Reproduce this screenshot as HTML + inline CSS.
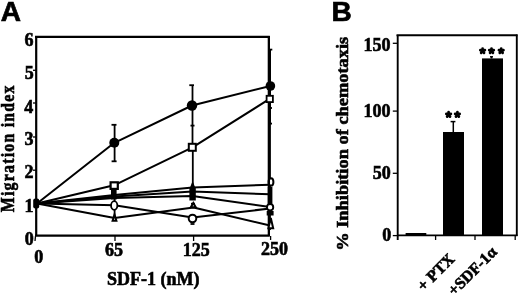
<!DOCTYPE html>
<html><head><meta charset="utf-8">
<style>
html,body{margin:0;padding:0;background:#fff;width:520px;height:294px;overflow:hidden}
svg{display:block;filter:grayscale(1)}
.s{font-family:"Liberation Sans",sans-serif;font-weight:bold;stroke:#000;stroke-width:0.7px}
.t{font-family:"Liberation Serif",serif;font-weight:bold;stroke:#000;stroke-width:0.6px}
</style></head><body>
<svg width="520" height="294" viewBox="0 0 520 294">
<rect width="520" height="294" fill="#fff"/>
<!-- Panel labels -->
<text class="s" x="0.8" y="20.8" font-size="28">A</text>
<text class="s" x="331.6" y="20.8" font-size="28">B</text>

<!-- ========== Panel A ========== -->
<g stroke="#000" fill="none" stroke-width="2.2">
  <line x1="36.2" y1="36" x2="36.2" y2="236"/>
  <line x1="35" y1="36.8" x2="269.8" y2="36.8"/>
  <line x1="268.8" y1="36" x2="268.8" y2="236"/>
  <line x1="35" y1="235.6" x2="269.8" y2="235.6"/>
</g>
<g stroke="#000" fill="none" stroke-width="1.3">
  <line x1="35.5" y1="236" x2="35" y2="241"/>
  <line x1="115" y1="236" x2="115" y2="241"/>
  <line x1="193.6" y1="236" x2="193.6" y2="241"/>
  <line x1="270.6" y1="236" x2="270.6" y2="240"/>
  <line x1="33" y1="70.3" x2="36" y2="70.3"/>
  <line x1="33" y1="103" x2="36" y2="103"/>
  <line x1="33" y1="137" x2="36" y2="137"/>
  <line x1="33" y1="170.2" x2="36" y2="170.2"/>
</g>
<g class="t" font-size="18" text-anchor="end">
  <text x="33.6" y="45.9">6</text>
  <text x="33.8" y="78.8">5</text>
  <text x="33.3" y="112.6">4</text>
  <text x="33.5" y="145.3">3</text>
  <text x="33.5" y="178">2</text>
  <text x="33.5" y="211.8">1</text>
  <text x="33.8" y="245.1">0</text>
</g>
<g class="t" font-size="18" text-anchor="middle">
  <text x="38.7" y="262.8">0</text>
  <text x="113.9" y="256">65</text>
  <text x="196.3" y="256">125</text>
  <text x="274.5" y="254.5">250</text>
</g>
<text class="t" x="107" y="285.4" font-size="18">SDF-1 (nM)</text>
<text class="t" font-size="18" letter-spacing="1.4" transform="translate(13.8,212.2) rotate(-90) scale(0.88,1)">Migration index</text>

<!-- data lines -->
<g stroke="#000" fill="none" stroke-width="2" stroke-linejoin="round">
  <polyline points="37,203.5 114.3,142.8 192,105.5 270.4,86"/>
  <polyline points="37,203.5 114,185.3 192.5,147.3 270,98.7"/>
  <polyline points="37,203.5 114.5,195 192.5,187.5 270,184.8"/>
  <polyline points="37,203.5 114.5,196.5 192.5,191.5 270,194.3"/>
  <polyline points="37,203.5 114.5,198 192.5,196 270,207"/>
  <polyline points="37,203.5 114.5,205.2 192.5,217.6 270,208.5"/>
  <polyline points="37,203.5 114.5,218 193.5,207.5 270,225.5"/>
</g>
<!-- error bars -->
<g stroke="#000" fill="none" stroke-width="1.8">
  <line x1="114.6" y1="124.8" x2="114.6" y2="161.3"/>
  <line x1="111.5" y1="124.8" x2="116.5" y2="124.8"/>
  <line x1="111.6" y1="161.3" x2="116.6" y2="161.3"/>
  <line x1="192.5" y1="85.2" x2="192.5" y2="147"/>
  <line x1="189.3" y1="85.2" x2="194" y2="85.2"/>
  <line x1="190.5" y1="125.6" x2="194.5" y2="125.6"/>
  <line x1="192.8" y1="147" x2="192.8" y2="200"/>
  <line x1="269.6" y1="49.6" x2="269.6" y2="124" stroke-width="2.8"/>
  <line x1="268" y1="49.6" x2="272.3" y2="49.6"/>
  <line x1="268" y1="108" x2="272" y2="108"/>
  <line x1="268" y1="123.6" x2="272" y2="123.6"/>
  <line x1="270" y1="124" x2="270" y2="230"/>
  <line x1="114.6" y1="185" x2="114.6" y2="220"/>
  <line x1="191" y1="203.7" x2="195" y2="203.7"/>
  <line x1="190.5" y1="224" x2="194.5" y2="224"/>
</g>
<ellipse cx="271" cy="182" rx="2.4" ry="3.8" fill="#fff" stroke="#000" stroke-width="2"/>
<line x1="269" y1="36" x2="269" y2="236" stroke="#000" stroke-width="2"/>
<!-- markers -->
<g fill="#000" stroke="none">
  <rect x="33.2" y="198.5" width="6" height="10" rx="2"/>
  <circle cx="114.3" cy="142.8" r="5"/>
  <circle cx="192" cy="105.5" r="5.2"/>
  <circle cx="270.4" cy="86" r="4.8"/>
  <rect x="111" y="189.5" width="5.6" height="10"/>
  <path d="M192.6,181 L195.8,189 L189.4,189 Z"/>
  <rect x="189.4" y="188.5" width="6.4" height="12"/>
  <rect x="267.8" y="187" width="4.6" height="17"/>
  <rect x="266.7" y="211" width="6.9" height="4.5"/>
</g>
<g fill="#fff" stroke="#000" stroke-width="2">
  <rect x="110.6" y="182.3" width="7.2" height="6.6" stroke-width="2.2"/>
  <rect x="188.8" y="143.8" width="7" height="7"/>
  <rect x="266.6" y="95.8" width="6.3" height="6.3" stroke-width="1.8"/>
  <ellipse cx="114.2" cy="205.5" rx="3.15" ry="4.3" stroke-width="1.8"/>
  <circle cx="192.5" cy="218.5" r="3.8" stroke-width="2"/>
  <circle cx="270.1" cy="207.3" r="3.15" stroke-width="1.9"/>
  <path d="M114.5,214.6 L116.4,220.7 L112.6,220.7 Z"/>
  <path d="M193.3,203 L195.8,207.3 L190.8,207.3 Z"/>
  <path d="M270.8,218 L273.2,228.3 L268.4,228.3 Z"/>
</g>

<!-- ========== Panel B ========== -->
<g stroke="#000" fill="none" stroke-width="1.9">
  <line x1="397.7" y1="35" x2="397.7" y2="240"/>
  <line x1="396.5" y1="35.3" x2="517.5" y2="35.3"/>
  <line x1="516.8" y1="34.5" x2="516.8" y2="236"/>
  <line x1="397" y1="235.4" x2="517.5" y2="235.4"/>
</g>
<g stroke="#000" fill="none" stroke-width="1.3">
  <line x1="392.8" y1="43.3" x2="397" y2="43.3"/>
  <line x1="392.8" y1="111.1" x2="397" y2="111.1"/>
  <line x1="392.8" y1="173.3" x2="397" y2="173.3"/>
  <line x1="392.8" y1="235.6" x2="397" y2="235.6"/>
  <line x1="435.6" y1="236" x2="435.6" y2="240"/>
  <line x1="475" y1="236" x2="475" y2="240"/>
  <line x1="515.2" y1="236" x2="515.2" y2="240"/>
</g>
<g class="t" font-size="18" text-anchor="end">
  <text x="390.4" y="51.4">150</text>
  <text x="390.4" y="117">100</text>
  <text x="390.8" y="179.4">50</text>
  <text x="391.2" y="240.8">0</text>
</g>
<text class="t" font-size="17.2" transform="translate(347.6,250.8) rotate(-90) scale(1.07,1)">% Inhibition of chemotaxis</text>
<g fill="#000">
  <rect x="405.6" y="233" width="20.7" height="3"/>
  <rect x="443" y="132" width="21" height="104"/>
  <rect x="482" y="58.4" width="21" height="177.6"/>
</g>
<g stroke="#000" stroke-width="1.5">
  <line x1="453.3" y1="121.6" x2="453.3" y2="132"/>
  <line x1="450.6" y1="121.6" x2="455.4" y2="121.6"/>
  <line x1="491.5" y1="56.8" x2="491.5" y2="58.5"/>
  <line x1="490" y1="56.8" x2="493" y2="56.8"/>
</g>
<defs>
  <g id="st" stroke="#000" stroke-width="2.7" stroke-linecap="round">
    <line x1="0" y1="0" x2="0" y2="-2.4"/>
    <line x1="0" y1="0" x2="2.3" y2="-0.75"/>
    <line x1="0" y1="0" x2="1.45" y2="2"/>
    <line x1="0" y1="0" x2="-1.45" y2="2"/>
    <line x1="0" y1="0" x2="-2.3" y2="-0.75"/>
  </g>
</defs>
<use href="#st" x="448.6" y="114.6"/>
<use href="#st" x="457.4" y="114.6"/>
<use href="#st" x="482.6" y="50.9"/>
<use href="#st" x="491.5" y="50.9"/>
<use href="#st" x="501.2" y="50.9"/>
<g class="t" font-size="16" text-anchor="end">
  <text transform="translate(455.4,260) rotate(-45)">+ PTX</text>
  <text transform="translate(497.8,253) rotate(-45)">+SDF-1α</text>
</g>
</svg>
</body></html>
